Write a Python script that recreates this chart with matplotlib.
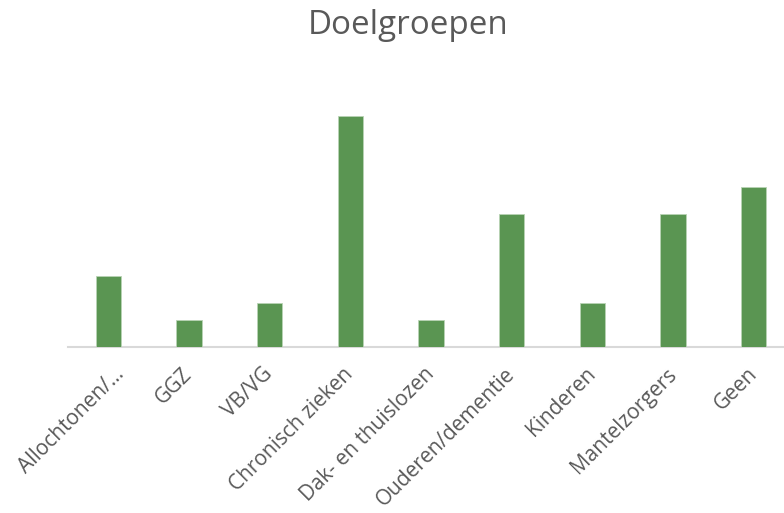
import matplotlib
matplotlib.use("Agg")
import matplotlib.pyplot as plt
from matplotlib import transforms

categories = ["Allochtonen/…", "GGZ", "VB/VG", "Chronisch zieken", "Dak- en thuislozen",
              "Ouderen/dementie", "Kinderen", "Mantelzorgers", "Geen"]
values = [8, 3, 5, 26, 3, 15, 5, 15, 18]

plt.rcParams['font.family'] = ['Open Sans', 'DejaVu Sans']

fig = plt.figure(figsize=(7.84, 5.13), dpi=100)
ax = fig.add_axes([68/784, (513-347)/513, 726/784, 266.5/513])
x = list(range(len(categories)))
ax.bar(x, values, width=0.31, color="#5A9552", edgecolor="#B9D3B4", linewidth=0.6, zorder=3)
ax.set_xlim(-0.5, len(categories) - 0.5)
ax.set_ylim(0, 30)
ax.set_yticks([])
for s in ["top", "right", "left"]:
    ax.spines[s].set_visible(False)
ax.spines["bottom"].set_color("#D9D9D9")
ax.spines["bottom"].set_linewidth(1.5)
ax.tick_params(axis="x", length=0, pad=0)
ax.set_xticks(x)

renderer = fig.canvas.get_renderer()
probe = fig.text(0, 0, "Ouderen/dementie", fontsize=12)
w = probe.get_window_extent(renderer).width
probe.remove()
lab_fs = 12 * 186 / w

ax.set_xticklabels(categories, rotation=45, ha="right", va="baseline", rotation_mode="anchor",
                   fontsize=lab_fs, color="#595959")
for i, lbl in enumerate(ax.get_xticklabels()):
    dx = 17 if i == 0 else 4
    offset = transforms.ScaledTranslation(dx/100, -28/100, fig.dpi_scale_trans)
    lbl.set_transform(lbl.get_transform() + offset)

probe = fig.text(0, 0, "Doelgroepen", fontsize=18)
w = probe.get_window_extent(renderer).width
probe.remove()
title_fs = 18 * 200 / w
fig.text(408/784, 1 - 25/513, "Doelgroepen", ha="center", va="center", fontsize=title_fs, color="#595959")
fig.savefig("out.png", dpi=100, facecolor="white")
